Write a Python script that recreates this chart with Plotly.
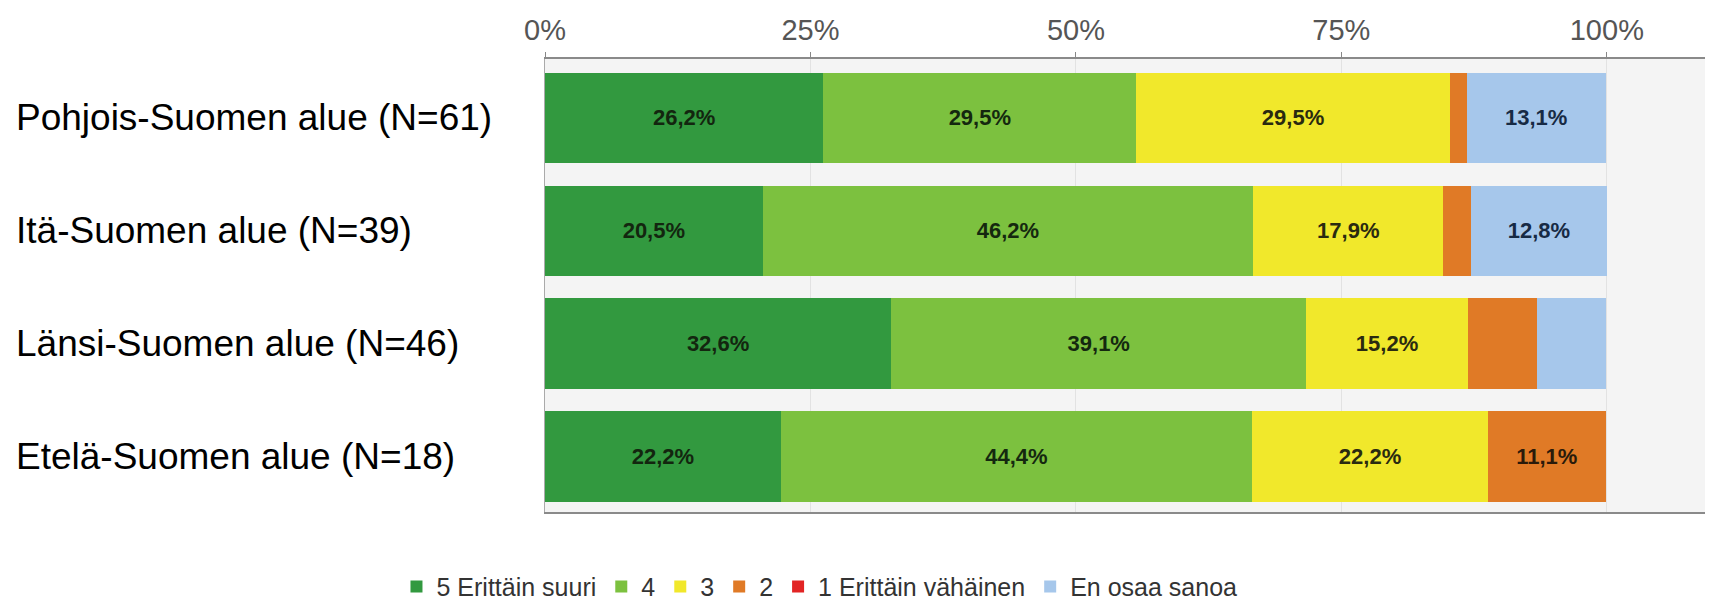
import plotly.graph_objects as go

regions = ["Pohjois-Suomen alue (N=61)", "Itä-Suomen alue (N=39)",
           "Länsi-Suomen alue (N=46)", "Etelä-Suomen alue (N=18)"]

answers = ["5 Erittäin suuri", "4", "3", "2", "1 Erittäin vähäinen", "En osaa sanoa"]

# percent of respondents per region, one list per answer
p5 = [26.2, 20.5, 32.6, 22.2]
p4 = [29.5, 46.2, 39.1, 44.4]
p3 = [29.5, 17.9, 15.2, 22.2]
p2 = [1.6, 2.6, 6.5, 11.1]
p1 = [0.0, 0.0, 0.0, 0.0]
p_eos = [13.1, 12.8, 6.5, 0.0]

tick_vals = [0, 25, 50, 75, 100]
tick_text = ["0%", "25%", "50%", "75%", "100%"]

series = [p5, p4, p3, p2, p1, p_eos]
colors = ["#32993f", "#7cc13f", "#f1e82b", "#e07a26", "#e22424", "#a6c7eb"]
text_colors = ["#13260f", "#14280f", "#2a2a10", "#2a1a0a", "#2a0a0a", "#172a44"]


def fmt(v):
    if v < 10:
        return ""
    return f"{v:.1f}".replace(".", ",") + "%"


fig = go.Figure()
for name, vals, col, tcol in zip(answers, series, colors, text_colors):
    fig.add_trace(go.Bar(
        y=regions, x=vals, name=name, orientation="h",
        marker=dict(color=col, line=dict(width=0)),
        width=0.8,
        text=[fmt(v) for v in vals], textposition="inside",
        insidetextanchor="middle", textangle=0,
        textfont=dict(family="Arial", size=22, color=tcol, weight="bold"),
        hoverinfo="skip",
    ))

# left aligned category labels
for r in regions:
    fig.add_annotation(text=r, x=-0.4546, xref="paper", y=r, yref="y",
                       xanchor="left", yanchor="middle", showarrow=False,
                       font=dict(family="Arial", size=37, color="#000000"))

# page body has an 8px margin, so the figure is a bit smaller than the window
fig.update_layout(
    barmode="stack",
    width=1705, height=600,
    margin=dict(l=537, r=0, t=51, b=96, autoexpand=False),
    paper_bgcolor="#ffffff",
    plot_bgcolor="#f4f4f4",
    legend=dict(orientation="h", x=0.235, xanchor="center", y=-0.165, yanchor="middle",
                font=dict(family="Arial", size=25, color="#333333"),
                itemwidth=30, traceorder="normal"),
)
fig.update_xaxes(
    side="top", range=[0, 110], tickvals=tick_vals, ticktext=tick_text, automargin=False,
    tickfont=dict(family="Arial", size=29, color="#555555"),
    ticks="outside", ticklen=5, tickcolor="#888888", ticklabelstandoff=0,
    showline=True, linecolor="#8a8a8a", linewidth=2, mirror=True,
    showgrid=True, gridcolor="#e2e2e2", gridwidth=1, zeroline=False,
)
fig.update_yaxes(
    range=[3.49, -0.52], showticklabels=False, showgrid=False, automargin=False,
    showline=True, linecolor="#aaaaaa", linewidth=1, zeroline=False,
)

fig.write_html("out.html")
